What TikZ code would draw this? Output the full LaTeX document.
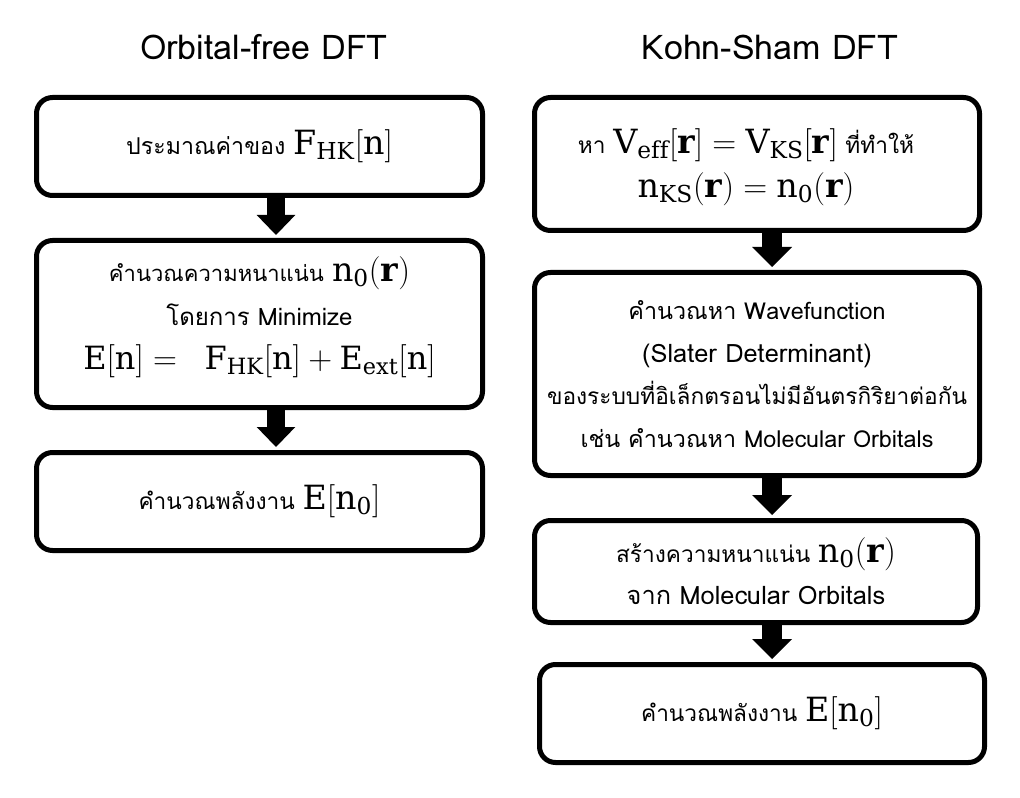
\documentclass[tikz,border=0pt]{standalone}
\usepackage{fontspec}
\newfontfamily\thai[Script=Thai]{Loma}
\setmathrm{DejaVu Serif}
\setboldmathrm{DejaVu Serif Bold}
\usetikzlibrary{arrows.meta}
\newcommand\mbx[2][25]{{\fontsize{#1}{#1}\selectfont$#2$}}
\newcommand\fs[2]{{\fontsize{#1}{#1}\selectfont #2}}
\begin{document}
\begin{tikzpicture}[x=0.75pt,y=-0.75pt,
  box/.style={draw, line width=3.75pt, rounded corners=12pt, inner sep=0pt, align=center},
  txt/.style={inner sep=0pt, align=center},
  title/.style={font=\thai\fontsize{25.5}{30}\selectfont},
  flow/.style={line width=13.5pt, -{Triangle[length=15pt,width=29pt,line width=0pt]}, shorten >=2.25pt},
  flowr/.style={line width=15pt, -{Triangle[length=15pt,width=30pt,line width=0pt]}, shorten >=2.25pt}]
\useasboundingbox (0,0) rectangle (1020,798);
\node[title] (tl) at (264,47) {Orbital-free DFT};
\node[title] (tr) at (770,47) {Kohn-Sham DFT};

\node[box, minimum width=334.5pt, minimum height=73.5pt, font=\thai\fontsize{17.4}{24}\selectfont] (L1) at (259.5,146.5)
  {ประมาณค่าของ \mbx{\mathrm{F_{HK}[n]}}};
\node[box, minimum width=334.5pt, minimum height=125.25pt] (L2) at (259.5,324) {};
\node[txt, font=\thai\fontsize{18}{33}\selectfont] (L2t) at (259.5,317)
  {\fs{16.5}{คำนวณความหนาแน่น} \mbx{\mathrm{n_0}(\mathbf{r})}\\
   โดยการ Minimize\\
   \mbx[24]{\mathrm{E[n]} = \;\; \mathrm{F_{HK}[n]} + \mathrm{E_{ext}[n]}}};
\node[box, minimum width=334.5pt, minimum height=73.5pt, font=\thai\fontsize{17}{24}\selectfont] (L3) at (259.5,501.5)
  {คำนวณพลังงาน \mbx{\mathrm{E[n_0]}}};

\node[box, minimum width=333.75pt, minimum height=99.75pt] (R1) at (757,164) {};
\node[txt, font=\thai\fontsize{17}{33}\selectfont] (R1t) at (746,167)
  {หา \mbx{\mathrm{V_{eff}}[\mathbf{r}] = \mathrm{V_{KS}}[\mathbf{r}]} ที่ทำให้\\
   \mbx{\mathrm{n_{KS}}(\mathbf{r}) = \mathrm{n_0}(\mathbf{r})}};
\node[box, minimum width=333.75pt, minimum height=152.25pt, font=\thai\fontsize{17}{32}\selectfont] (R2) at (757,374)
  {\fs{17.5}{คำนวณหา Wavefunction}\\
   \fs{19}{(Slater Determinant)}\\
   ของระบบที่อิเล็กตรอนไม่มีอันตรกิริยาต่อกัน\\
   \fs{17.5}{เช่น คำนวณหา Molecular Orbitals}};
\node[box, minimum width=332.25pt, minimum height=76.5pt, font=\thai\fontsize{17}{31.5}\selectfont] (R3) at (756,571.5)
  {สร้างความหนาแน่น \mbx{\mathrm{n_0}(\mathbf{r})}\\
   \fs{19}{จาก Molecular Orbitals}};
\node[box, minimum width=333.75pt, minimum height=73.5pt, font=\thai\fontsize{17}{24}\selectfont] (R4) at (762,713.5)
  {คำนวณพลังงาน \mbx{\mathrm{E[n_0]}}};

\coordinate (axl) at (276,0);
\coordinate (axr) at (772,0);
\draw[flow] (L1.south -| axl) -- (L2.north -| axl);
\draw[flow] (L2.south -| axl) -- (L3.north -| axl);
\draw[flowr] (R1.south -| axr) -- (R2.north -| axr);
\draw[flowr] (R2.south -| axr) -- (R3.north -| axr);
\draw[flowr] (R3.south -| axr) -- (R4.north -| axr);
\end{tikzpicture}
\end{document}
